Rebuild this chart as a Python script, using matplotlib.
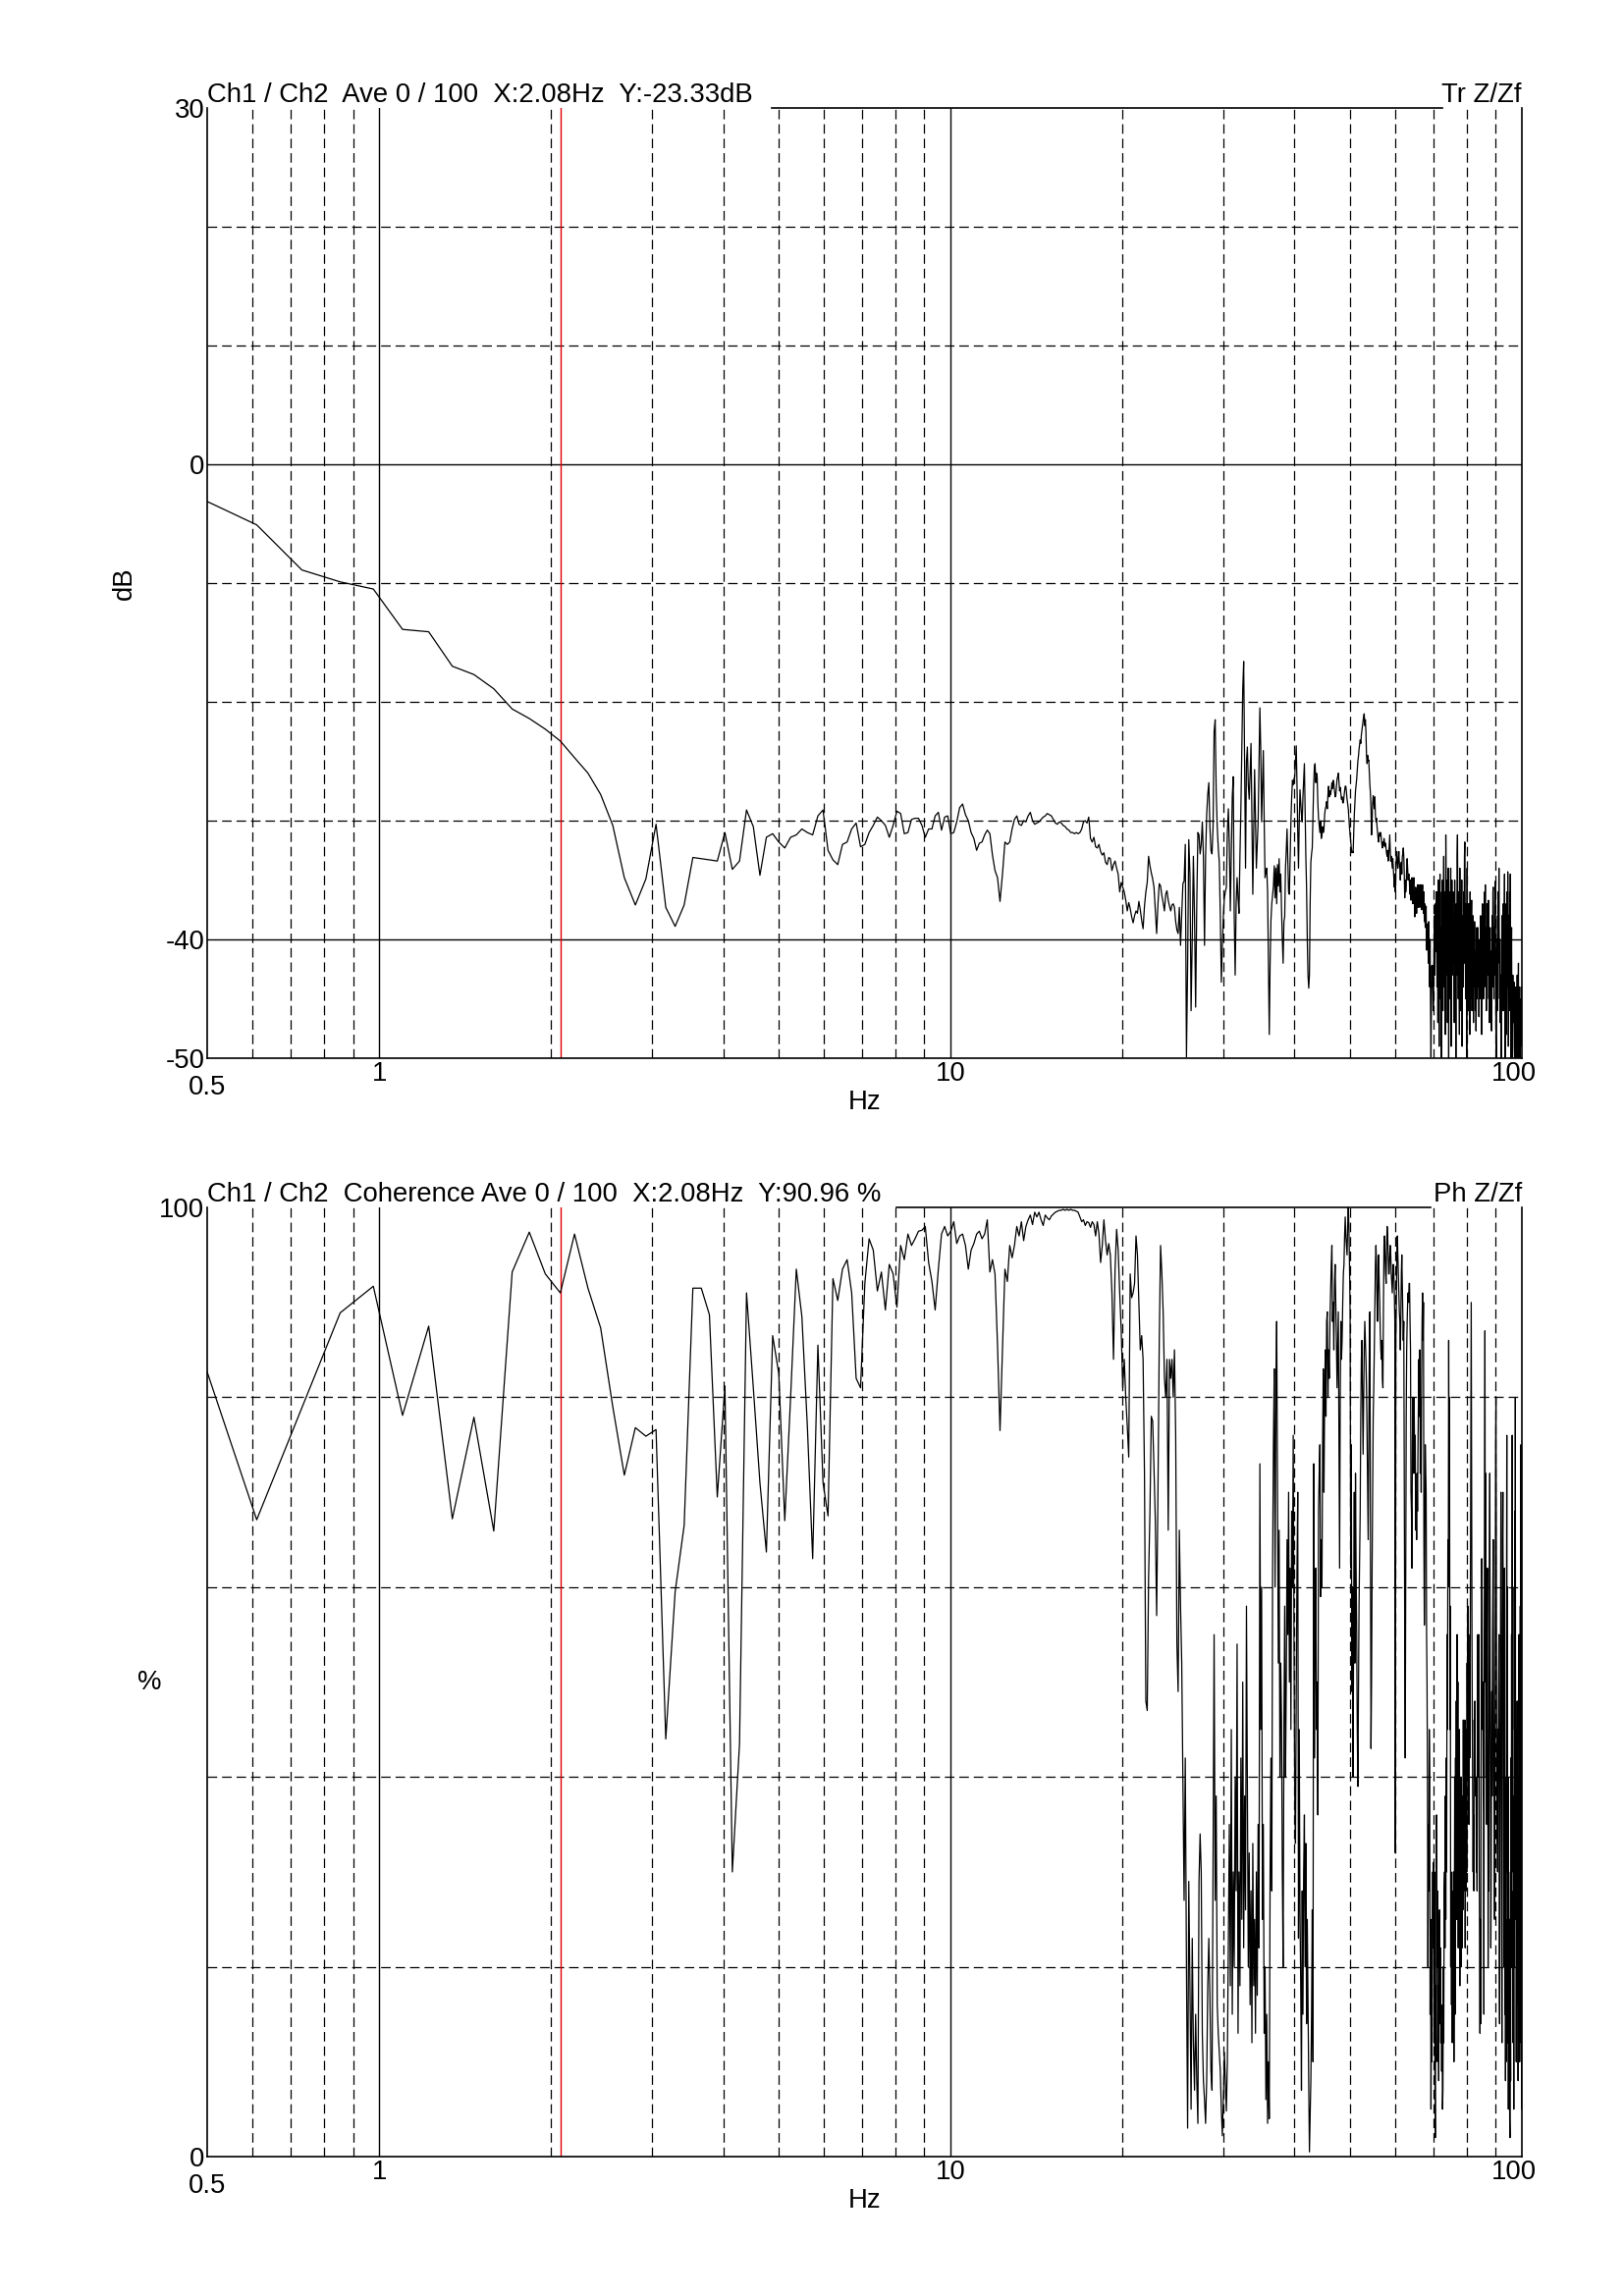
import numpy as np
import matplotlib.pyplot as plt
from matplotlib.ticker import NullLocator
from matplotlib.transforms import ScaledTranslation

plt.rcParams['font.family'] = ['Liberation Sans', 'DejaVu Sans']
plt.rcParams['lines.scale_dashes'] = False

DF = 100 / 819.2      # analyser line spacing, Hz
CURSOR_HZ = 2.08

# Transfer function Tr Z/Zf in dB, one list per run of FFT lines.
# The number in the name is the first line of the run (freq = line * DF).
tr_db_004 = [-2.9, -5.1, -8.9, -9.9, -10.5, -13.9, -14.1, -17.0, -17.7, -18.9,
             -20.6, -21.4, -22.3, -23.3, -24.7, -26.0, -27.8, -30.4, -34.8, -37.1,
             -34.9, -30.3, -37.3, -38.9, -37.1, -33.1, -33.2, -33.3, -33.4, -31.0,
             -34.1, -33.4, -29.1, -30.5, -34.6, -31.4, -31.1, -31.8, -32.3, -31.4,
             -31.2, -30.7, -31.0, -31.2, -29.6, -29.1, -32.5, -33.3, -33.7, -32.0,
             -31.8, -30.7, -30.2, -32.2, -32.0, -31.0, -30.4, -29.7, -30.0, -30.4,
             -31.4, -30.4, -29.2, -29.4, -31.1, -31.0, -29.9, -29.8, -29.8, -30.4,
             -31.4, -30.7, -30.7, -29.6, -29.3, -30.8, -29.7, -29.6, -31.1, -31.0,
             -30.1, -28.9, -28.6, -29.5, -30.0, -31.0, -31.5, -32.5, -31.9, -31.8,
             -31.2, -30.8, -31.1, -32.9, -34.2, -34.8, -36.8, -34.5, -31.8, -32.0,
             -31.8, -30.7, -29.9, -29.6, -30.3, -30.4, -30.0, -30.1, -29.6, -29.3,
             -30.0, -30.3, -30.2, -30.1, -29.9, -29.7, -29.6, -29.4, -29.5, -29.6,
             -29.9, -30.2, -30.3, -30.1, -30.2, -30.4, -30.5, -30.7, -30.8, -31.0,
             -31.0, -31.1, -31.0, -31.1, -31.0, -30.7, -30.1, -30.0, -30.2, -29.7,
             -31.5, -31.8, -31.4, -32.2, -32.3, -32.0, -32.6, -32.9, -32.7, -33.5,
             -33.7, -33.1, -33.2, -34.2, -33.7, -33.4, -34.0, -34.5, -36.0, -35.2, -35.6]
tr_db_165 = [-36.0, -36.7, -37.6, -36.9, -37.4, -38.1, -38.6, -38.0, -37.6, -37.8,
             -36.8, -37.5, -38.4, -39.1, -37.2, -36.0, -35.2, -33.0, -33.8, -34.4,
             -34.9, -35.6, -37.5, -39.5, -37.0, -35.3, -35.5, -36.3, -36.9, -37.6,
             -36.2, -35.9, -36.7, -37.2, -37.6, -37.1, -37.0, -37.3, -38.5, -39.2,
             -39.5, -37.3, -40.5, -38.0, -35.3, -35.1, -32.0, -49.9, -42.2, -31.6,
             -34.5, -46.0, -40.0, -33.0, -38.0, -45.7, -37.0, -31.0, -31.2, -32.8,
             -32.0, -30.1, -33.0, -40.5, -33.0, -29.5, -27.8, -26.8, -30.5, -32.5,
             -32.8, -30.5, -22.5, -21.5, -27.5, -30.5, -32.3, -33.5, -38.0, -43.6,
             -40.5, -38.0, -36.5, -36.0, -35.6, -31.0]
tr_db_251 = [-29.0, -32.0, -37.6, -33.0, -28.0, -26.3, -38.0, -43.0, -37.0, -34.8,
             -36.5, -37.8, -33.0, -29.0, -24.0, -18.9, -16.6, -25.0, -34.0, -25.0,
             -23.8, -27.0, -28.2, -26.0, -23.5, -30.0, -36.2, -31.0, -25.7, -30.0,
             -34.0, -32.0, -30.1, -25.0, -20.5, -24.0, -30.1, -27.0, -24.1, -30.0,
             -34.8, -34.3, -34.0, -36.0, -42.0, -48.0, -42.0, -38.4, -37.0, -36.2]
tr_db_301 = [-35.5, -33.8, -36.5, -34.0, -37.0, -33.7, -35.5, -33.2, -36.0, -34.5,
             -37.5, -40.0, -42.0, -38.5, -38.1, -34.0, -32.5, -30.7, -33.5, -36.0,
             -36.2, -33.0, -30.0, -28.0, -26.6, -27.0, -26.5, -26.3, -25.0, -23.7,
             -27.0, -31.0, -34.0, -30.0, -27.4, -28.5, -29.5, -30.1, -28.0, -26.5,
             -25.2, -29.0, -33.0, -35.6, -40.0, -43.0, -44.1, -43.0, -37.0, -33.5]
tr_db_351 = [-32.8, -32.3, -29.5, -27.0, -25.5, -25.2, -26.8, -26.0, -26.3, -28.5,
             -29.8, -30.4, -31.0, -30.0, -31.5, -31.2, -30.5, -31.0, -30.7, -29.5,
             -29.0, -28.8, -28.4, -29.0, -27.8, -27.1, -28.0, -27.5, -27.8, -27.4,
             -26.8, -27.3, -26.6, -26.9, -27.5, -28.0, -27.9, -27.2, -26.5, -26.3,
             -26.0, -26.8, -27.5, -27.2, -27.7, -28.2, -28.0, -28.5, -28.5, -28.0,
             -27.5, -27.1, -27.1, -27.6, -28.2, -28.6, -29.0, -29.8, -30.6, -31.2,
             -31.8, -32.3, -32.7, -32.6, -32.7, -31.0, -29.5, -28.5, -27.5, -27.0]
tr_db_421 = [-26.5, -25.7, -25.0, -24.6, -24.0, -23.6, -23.2, -23.5, -22.8, -22.4,
             -22.0, -21.6, -21.2, -21.0, -22.0, -21.5, -22.5, -24.5, -25.2, -24.5,
             -25.0, -24.9, -26.0, -27.0, -27.7, -29.0, -31.2, -30.0, -28.5, -27.9,
             -28.5, -29.0, -28.0, -29.5, -30.1, -29.8, -30.5, -31.0, -31.5, -31.8,
             -31.2, -31.0, -31.3, -31.0, -31.6, -32.0, -32.3, -31.8, -32.1, -31.5,
             -31.8, -32.2, -31.9, -32.4, -32.8, -33.0, -32.5, -33.4, -33.0, -32.0,
             -31.2, -32.5, -33.4, -33.0, -33.5, -34.0, -33.2, -34.0, -34.8, -35.6,
             -34.5, -36.0, -34.5, -33.0, -32.6, -33.5, -34.0, -33.2, -32.6, -33.5]
tr_db_501 = [-34.0, -35.0, -34.0, -33.5, -34.5, -33.0, -32.8, -32.3, -33.0, -34.5,
             -36.5, -35.0, -36.0, -35.5, -34.0, -33.2, -34.0, -35.0, -34.5, -34.5,
             -35.5, -36.2, -35.0, -36.7, -35.5, -34.8, -36.0, -37.0, -35.5, -34.8,
             -36.0, -38.1, -36.5, -35.6, -37.0, -37.8, -36.2, -35.4, -37.3,
             -36.0, -35.4, -36.8, -37.3, -36.0, -35.4, -36.5, -37.5, -36.2, -35.4,
             -36.5, -37.8, -36.0, -38.5, -37.0, -39.0, -38.0, -37.2, -40.9, -39.5,
             -38.7, -40.0, -42.0, -38.5, -41.0, -44.0, -40.0, -46.0, -49.9, -45.0,
             -42.2, -44.0, -42.2, -46.0, -45.0, -40.0, -38.0, -43.0, -37.0, -41.0, -36.0]
tr_db_581 = [-38, -44, -36, -47, -35, -41, -49, -37, -34.5, -45,
             -39, -50, -36, -42, -35, -46, -38, -33, -44, -40,
             -36, -48, -31.2, -37, -43, -35, -47, -39, -34, -50,
             -41, -36, -45, -38, -34, -49, -40, -35, -43, -37]
tr_db_621 = [-36, -42, -39, -47, -35, -44, -40, -50, -37, -43,
             -33, -31.2, -38, -45, -36, -41, -48, -34, -39, -46,
             -37, -43, -35, -49, -40, -38, -44, -36, -42, -33,
             -31.8, -39, -45, -37, -41, -50, -34, -43, -38, -46]
tr_db_661 = [-37, -44, -40, -48, -36, -42, -45, -39, -36.7, -46,
             -41, -43, -38, -47, -40, -44, -38.5, -42, -46, -41,
             -47.7, -43, -39, -45, -42, -39, -44, -41, -46.5, -43,
             -40, -45, -42, -38, -44, -41, -48, -40, -37, -43]
tr_db_701 = [-41, -45, -38, -43, -36, -40, -35.4, -44, -39, -46,
             -41, -37, -43, -38, -42, -36.7, -45, -40, -47, -42,
             -39, -44, -41, -46, -47.7, -43, -38, -44, -36, -35.6,
             -41, -45, -39, -43, -37, -35.1, -42, -48, -50, -44,
             -40, -46, -38, -42, -36, -39, -34, -41, -45, -40,
             -47, -43, -49, -50, -44, -38, -42, -46, -40, -37]
tr_db_761 = [-41, -46, -38, -34.5, -43, -50, -39, -45, -37, -48,
             -42, -36, -44, -34.3, -40, -49, -38, -46, -41, -36,
             -44, -34.5, -47, -50, -42, -39, -48, -45, -50, -43,
             -47, -44, -46, -43.6, -49, -50, -45, -47, -50, -44,
             -48, -46, -50, -43, -49, -47, -45, -42, -50, -48,
             -46, -44, -50, -47, -45, -49, -46, -48, -44, -47]

# Coherence in %, same layout of runs
coh_004 = [84.5, 67.1, 78.9, 88.9, 91.7, 78.1, 87.5, 67.2, 77.9, 65.9,
           93.2, 97.4, 93.0, 91.0, 97.2, 91.5, 87.3, 79.0, 71.8, 76.8,
           75.9, 76.6, 44.0, 59.5, 66.5, 91.5, 91.5, 88.7, 69.5, 81.2,
           30.0, 43.5, 91.0, 81.0, 71.0, 63.7, 86.5, 82.5, 67.0, 80.0,
           93.5, 88.5, 77.0, 63.0, 85.5, 71.0, 67.5, 92.5, 90.2, 93.5,
           94.5, 91.0, 82.0, 81.0, 92.0, 96.7, 95.5, 91.2, 93.2, 89.2,
           94.0, 93.0, 89.5, 96.0, 94.5, 97.2, 96.0, 96.7, 97.5, 97.6,
           98.0, 94.2, 92.2, 89.2, 93.5, 97.2, 98.0, 97.0, 97.5, 98.5,
           96.2, 97.0, 97.2, 96.0, 93.5, 95.5, 96.2, 97.2, 97.5, 96.7,
           97.2, 98.7, 93.2, 94.5, 93.0, 85.5, 76.5, 85.0, 93.5, 92.2,
           96.0, 94.7, 96.0, 98.0, 97.0, 98.5, 96.5, 98.0, 98.7, 99.2,
           98.2, 99.5, 99.0, 99.5, 98.7, 98.1, 99.2, 98.9, 98.7, 99.1,
           99.3, 99.5, 99.6, 99.7, 99.7, 99.8, 99.7, 99.8, 99.7, 99.8,
           99.7, 99.7, 99.6, 99.5, 99.0, 98.5, 98.7, 98.1, 98.5, 98.4,
           97.9, 98.5, 98.2, 97.0, 98.5, 97.2, 94.2, 96.0, 98.7, 96.5,
           95.0, 96.2, 95.0, 91.0, 84.0, 93.5, 97.7, 95.5, 91.0, 87.0, 81.0]
coh_165 = [84, 80, 77, 73.7, 93, 90.5, 91, 92, 97, 95,
           90, 85, 86.5, 84, 72, 48, 47, 61, 68, 78,
           77.5, 72.5, 67, 57, 70, 86, 96, 93, 89, 82,
           80, 84, 66, 84, 82, 84]
coh_201 = [80, 85, 76, 54, 49, 66, 58, 52, 40, 27,
           42, 20, 3, 29, 18, 5, 23, 12, 7, 15,
           8, 3.5, 29, 34, 30, 13, 8, 6, 3.5, 8,
           18, 23, 17, 9, 7, 30, 55, 27, 38, 16,
           13, 11, 9, 5, 2.2, 6, 11, 8, 4.8, 10]
coh_251 = [23, 35, 18, 45, 15, 30, 20, 40, 28, 54,
           13, 30, 18, 42, 25, 50, 22, 38, 26, 58,
           40, 20, 32, 16, 28, 12, 33, 18, 25, 13,
           30, 17, 35, 22, 73, 45, 60, 25, 35, 13,
           20, 6, 15, 3.5, 10, 4, 30, 42, 28, 62]
coh_301 = [75, 83, 60, 80, 88, 70, 52, 66, 40, 52,
           46, 30, 20, 45, 58, 40, 50, 65, 55, 70,
           50, 62, 45, 68, 60, 76, 55, 38, 33, 49,
           62, 70, 23, 45, 26, 18, 7, 28, 15, 30,
           36, 20, 33, 14, 25, 16, 8, 0.5, 4, 8]
coh_351 = [15, 26, 10, 73, 42, 55, 62, 45, 50, 36,
           68, 72, 75, 59, 65, 60, 75, 83, 70, 80,
           85, 78, 88, 89, 80, 85, 82, 88, 91, 94,
           96, 88, 90, 85, 92, 94, 90, 86, 81, 85,
           89, 75, 62, 80, 88, 84, 86, 90, 93, 94]
coh_401 = [97, 99, 97, 96, 95, 98, 100, 98, 94, 89,
           62, 75, 49, 60, 40, 58, 70, 52, 72, 62,
           55, 45, 39, 48, 58, 63, 68, 78, 84, 86,
           80, 74, 80, 85, 88, 86, 84, 81, 76, 70,
           65, 75, 85, 89, 65, 43, 50, 62, 70, 78]
coh_451 = [81, 85, 90, 94, 96, 94, 90, 88, 92, 95,
           92, 90, 87, 85, 84, 86, 82, 81, 90, 96,
           97, 95, 93, 92, 96, 98, 97, 95, 93, 93,
           95, 96, 95, 93, 92, 91, 93, 94, 93, 91,
           88, 32, 86, 90, 95, 97, 95, 93, 91, 89]
coh_501 = [88, 85, 88, 93, 95, 92, 89, 86, 88, 70,
           55, 42, 60, 78, 85, 88, 90, 91, 90, 92,
           92, 88, 85, 70, 68, 62, 75, 80, 72, 80,
           78, 72, 76, 66, 70, 65, 72, 68, 75, 80,
           84, 78, 85, 72, 80, 70, 82, 88, 91, 86,
           90, 65, 56, 62, 75, 72, 70, 55, 50, 40]
coh_561 = [20, 35, 28, 45, 40, 15, 25, 5, 18, 10,
           24, 30, 22, 31, 12, 30, 8, 2, 18, 10,
           36, 20, 28, 10, 18, 8, 22, 26, 14, 22,
           12, 16, 9, 14, 5, 7, 20, 12, 28, 30,
           22, 38, 25, 42, 30, 55, 45, 65, 60, 86,
           70, 80, 45, 58, 20, 30, 16, 28, 12, 26]
coh_621 = [14, 30, 10, 22, 40, 15, 42, 30, 48, 25,
           55, 38, 50, 22, 40, 29, 45, 18, 39, 26,
           40, 20, 35, 22, 38, 26, 46, 28, 42, 30,
           46, 22, 36, 28, 45, 30, 52, 40, 58, 44,
           55, 35, 52, 42, 50, 62, 78, 90, 70, 55,
           45, 38, 30, 36, 28, 46, 42, 48, 40, 38,
           40, 30, 34, 28, 45, 55, 40, 50, 55, 30,
           20, 13, 25, 14, 40, 55, 63, 58, 45, 50]
coh_701 = [40, 36, 15, 55, 70, 87, 50, 72, 40, 49,
           35, 55, 62, 45, 20, 33, 28, 50, 65, 72,
           50, 35, 22, 30, 42, 49, 38, 55, 60, 65,
           50, 40, 36, 25, 40, 60, 75, 80, 66, 45,
           33, 38, 30, 45, 42, 50, 55, 20, 14, 30,
           45, 58, 70, 48, 30, 12, 40, 65, 70, 55]
coh_761 = [48, 20, 35, 62, 15, 40, 8, 25, 10, 55,
           76, 30, 60, 12, 40, 5, 30, 16, 25, 4,
           2, 18, 8, 42, 20, 55, 30, 76, 45, 60,
           12, 28, 5, 38, 20, 68, 35, 80, 25, 45,
           10, 30, 16, 48, 22, 35, 8, 40, 18, 55,
           35, 10, 20, 58, 30, 75, 12, 50, 5, 45]

tr_runs = [(4, tr_db_004), (165, tr_db_165), (251, tr_db_251), (301, tr_db_301),
           (351, tr_db_351), (421, tr_db_421), (501, tr_db_501), (581, tr_db_581),
           (621, tr_db_621), (661, tr_db_661), (701, tr_db_701), (761, tr_db_761)]
coh_runs = [(4, coh_004), (165, coh_165), (201, coh_201), (251, coh_251),
            (301, coh_301), (351, coh_351), (401, coh_401), (451, coh_451),
            (501, coh_501), (561, coh_561), (621, coh_621), (701, coh_701),
            (761, coh_761)]

# grid / tick layout
x_solid = [1, 10]
x_dashed = [0.6, 0.7, 0.8, 0.9, 2, 3, 4, 5, 6, 7, 8, 9, 20, 30, 40, 50, 60, 70, 80, 90]
x_ticks = [1, 10, 100]

PX = 0.72      # points per pixel at 100 dpi
FS = 19.8
DASH = (7, 3.6)


def join_runs(runs):
    f, v = [], []
    for k0, vals in runs:
        f.append((k0 + np.arange(len(vals))) * DF)
        v.append(np.asarray(vals, dtype=float))
    return np.concatenate(f), np.concatenate(v)


def dress(ax, ylim, yticks, solid_y, dashed_y, title, tag, top_line, ylab, ylab_dx, ylab_rot):
    ax.set_xscale('log')
    ax.set_xlim(0.5, 100)
    ax.set_ylim(*ylim)
    ax.set_xticks(x_ticks, [str(t) for t in x_ticks])
    ax.xaxis.set_minor_locator(NullLocator())
    ax.set_yticks(yticks, [str(t) for t in yticks])
    ax.tick_params(length=0, labelsize=FS, pad=2)
    # the "100" label sits a little inside the right edge
    lab = ax.get_xticklabels()[-1]
    lab.set_transform(lab.get_transform() + ScaledTranslation(-0.08, 0, ax.figure.dpi_scale_trans))
    ax.spines['top'].set_visible(False)
    for s in ('left', 'bottom', 'right'):
        ax.spines[s].set_linewidth(1.2)

    for x in x_solid:
        ax.axvline(x, color='black', lw=1.0, zorder=1)
    for x in x_dashed:
        ax.axvline(x, color='black', lw=0.9, dashes=DASH, zorder=1)
    for y in solid_y:
        ax.axhline(y, color='black', lw=1.0, zorder=1)
    for y in dashed_y:
        ax.axhline(y, color='black', lw=0.9, dashes=DASH, zorder=1)
    ax.axvline(CURSOR_HZ, color='#e00000', lw=1.0, zorder=2)

    # the frame top is only drawn between the two header texts
    ax.plot(top_line, [1, 1], transform=ax.transAxes, color='black', lw=1.2, clip_on=False)

    ax.annotate(title, xy=(0, 1), xycoords='axes fraction', xytext=(0, 6 * PX),
                textcoords='offset points', ha='left', va='baseline', fontsize=FS)
    ax.annotate(tag, xy=(1, 1), xycoords='axes fraction', xytext=(0, 6 * PX),
                textcoords='offset points', ha='right', va='baseline', fontsize=FS)
    ax.annotate('0.5', xy=(0.5, 0), xycoords=('data', 'axes fraction'), xytext=(0, -30 * PX),
                textcoords='offset points', ha='center', va='center', fontsize=FS)
    ax.annotate('Hz', xy=(0.5, 0), xycoords='axes fraction', xytext=(0, -45 * PX),
                textcoords='offset points', ha='center', va='center', fontsize=FS)
    ax.annotate(ylab, xy=(0, 0.5), xycoords='axes fraction', xytext=(-ylab_dx * PX, 0),
                textcoords='offset points', ha='center', va='center', fontsize=FS,
                rotation=ylab_rot)


fig = plt.figure(figsize=(16.54, 23.39), dpi=100)
fig.patch.set_facecolor('white')

ax_tr = fig.add_axes([0.1276, 0.5391, 0.8095, 0.4139])
f_tr, v_tr = join_runs(tr_runs)
ax_tr.plot(f_tr, v_tr, color='black', lw=0.9, zorder=3)
dress(ax_tr, (-50, 30), [30, 0, -40, -50], [0, -40], [20, 10, -10, -20, -30],
      'Ch1 / Ch2  Ave 0 / 100  X:2.08Hz  Y:-23.33dB', 'Tr Z/Zf',
      [0.4294, 0.9395], 'dB', 84, 90)

ax_coh = fig.add_axes([0.1276, 0.0607, 0.8095, 0.4134])
f_coh, v_coh = join_runs(coh_runs)
ax_coh.plot(f_coh, v_coh, color='black', lw=0.9, zorder=3)
dress(ax_coh, (0, 100), [100, 0], [], [80, 60, 40, 20],
      'Ch1 / Ch2  Coherence Ave 0 / 100  X:2.08Hz  Y:90.96 %', 'Ph Z/Zf',
      [0.524, 0.9306], '%', 59, 0)

fig.savefig('out.png', dpi=100, facecolor='white')
